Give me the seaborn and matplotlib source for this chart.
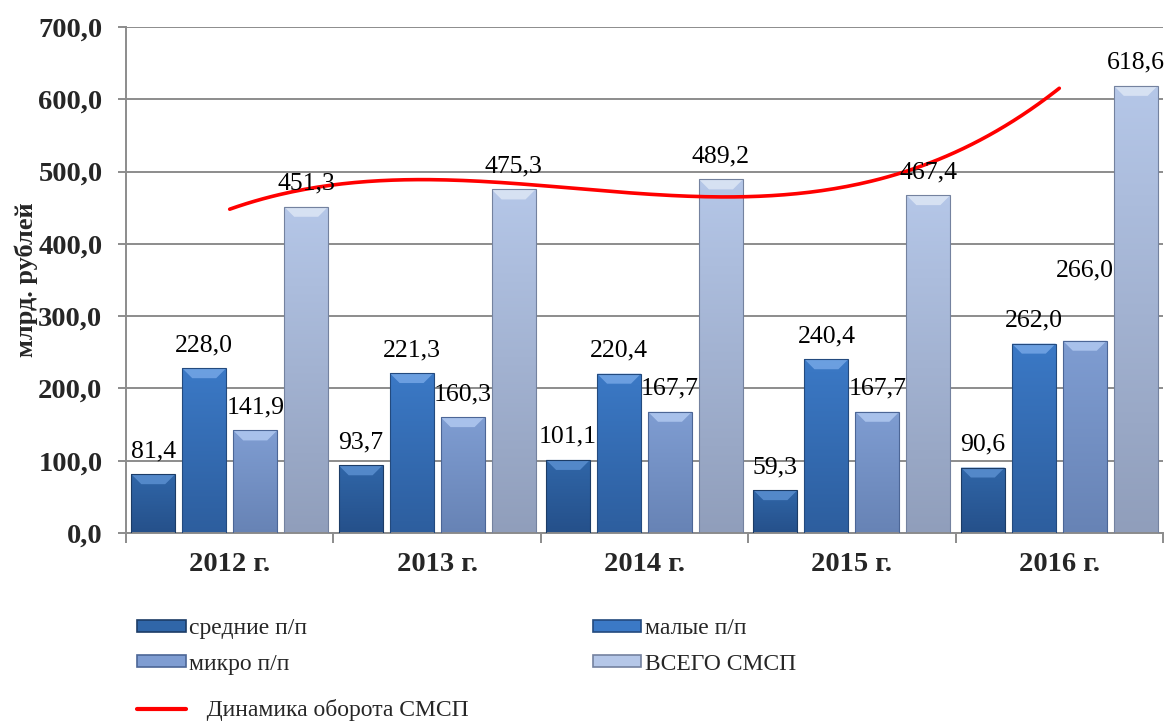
import numpy as np
import pandas as pd
import matplotlib
matplotlib.use("Agg")
import matplotlib.pyplot as plt
import seaborn as sns
from matplotlib.colors import LinearSegmentedColormap
from matplotlib.patches import Polygon, Patch
from matplotlib.lines import Line2D


YEARS = ["2012 г.", "2013 г.", "2014 г.", "2015 г.", "2016 г."]
SERIES = ["средние п/п", "малые п/п", "микро п/п", "ВСЕГО СМСП"]

medium = [81.4, 93.7, 101.1, 59.3, 90.6]
small = [228.0, 221.3, 220.4, 240.4, 262.0]
micro = [141.9, 160.3, 167.7, 167.7, 266.0]
total = [451.3, 475.3, 489.2, 467.4, 618.6]

TREND_LABEL = "   Динамика оборота СМСП"

# top colour, bottom colour, bevel colour, edge colour
STYLES = {
    "средние п/п": ("#3066a8", "#25508a", "#5a8fd0", "#1c3c66"),
    "малые п/п": ("#3b79c6", "#2d5e9e", "#74a6e6", "#234a7e"),
    "микро п/п": ("#7f9dd2", "#6783b5", "#b0c8f0", "#4c6696"),
    "ВСЕГО СМСП": ("#b5c7e8", "#909ebb", "#dde6f5", "#74829f"),
}


def main() -> None:
    sns.set_theme(style="white")
    plt.rcParams["font.family"] = ["Liberation Serif", "DejaVu Serif"]

    df = pd.DataFrame({
        "year": YEARS * 4,
        "series": [s for s in SERIES for _ in YEARS],
        "value": medium + small + micro + total,
    })

    fig = plt.figure(figsize=(11.74, 7.22), dpi=100)
    ax = fig.add_axes([126 / 1174, 1 - 533 / 722, 1037 / 1174, 506 / 722])

    palette = {s: STYLES[s][0] for s in SERIES}
    sns.barplot(df, x="year", y="value", hue="series", palette=palette,
                width=0.983, gap=0.138, ax=ax, legend=False, zorder=3)

    ax.set_xlim(-0.5, 4.5)
    ax.set_ylim(0, 700)

    bbox = ax.get_window_extent()
    ux = 5 / bbox.width      # data units per pixel
    uy = 700 / bbox.height

    # bars with gradient + top bevel
    for container, name in zip(ax.containers, SERIES):
        top_c, bot_c, bevel_c, edge_c = STYLES[name]
        cmap = LinearSegmentedColormap.from_list(name, [bot_c, top_c])
        grad = np.linspace(0, 1, 256).reshape(-1, 1)
        for bar, val in zip(container.patches, container.datavalues):
            x0, w = bar.get_x(), bar.get_width()
            h = bar.get_height()
            bar.set_facecolor("none")
            bar.set_edgecolor(edge_c)
            bar.set_linewidth(0.8)
            im = ax.imshow(grad, extent=[x0, x0 + w, 0, h], origin="lower",
                           aspect="auto", cmap=cmap, zorder=2.5)
            im.set_clip_path(bar)
            bev = 10
            ax.add_patch(Polygon(
                [(x0, h), (x0 + w, h), (x0 + w - bev * ux, h - bev * uy), (x0 + bev * ux, h - bev * uy)],
                closed=True, facecolor=bevel_c, edgecolor="none", alpha=0.85, zorder=2.7))
            # value label
            lift = 70 if (name == "микро п/п" and val == 266.0) else 23
            ax.text(x0 + w / 2, h + lift * uy, f"{val:.1f}".replace(".", ","),
                    ha="center", va="center", fontsize=18.5, color="black",
                    zorder=5, clip_on=False)

    ax.set_xlim(-0.5, 4.5)
    ax.set_ylim(0, 700)

    # cubic trend of totals
    pos = np.arange(len(YEARS))
    coef = np.polyfit(pos, total, 3)
    xs = np.linspace(0, 4, 200)
    sns.lineplot(x=xs, y=np.polyval(coef, xs), color="#ff0000", linewidth=2.6,
                 ax=ax, zorder=4)

    # axes styling
    ax.yaxis.grid(True, color="#8c8c8c", linewidth=1.4, zorder=0)
    ax.set_axisbelow(True)
    for side in ["top", "right"]:
        ax.spines[side].set_visible(False)
    ax.spines["left"].set_color("#8c8c8c")
    ax.spines["bottom"].set_color("#8c8c8c")
    ax.spines["left"].set_linewidth(1.4)
    ax.spines["bottom"].set_linewidth(1.4)

    yt = np.arange(0, 701, 100)
    ax.set_yticks(yt)
    ax.set_yticklabels([f"{v:.1f}".replace(".", ",") for v in yt],
                       fontsize=20.5, fontweight="bold")
    ax.tick_params(axis="y", length=6, width=1.4, color="#8c8c8c", direction="out", left=True, pad=11)

    ax.set_xticks(pos)
    ax.set_xticklabels(YEARS, fontsize=20.5, fontweight="bold")
    ax.set_xticks(np.arange(-0.5, 5, 1), minor=True)
    ax.tick_params(axis="x", which="major", length=0, pad=14)
    ax.tick_params(axis="x", which="minor", length=7, width=1.4, color="#8c8c8c", bottom=True)

    ax.set_xlabel("")
    ax.set_ylabel("млрд. рублей", fontsize=19, fontweight="bold")
    ax.yaxis.set_label_coords(-0.085, 0.5)

    # legend: bar series in two columns, trend line on its own row below
    def h(name):
        return Patch(facecolor=STYLES[name][0], edgecolor=STYLES[name][3], linewidth=1.2)

    handles = [h("средние п/п"), h("микро п/п"), h("малые п/п"), h("ВСЕГО СМСП")]
    labels = ["средние п/п", "микро п/п", "малые п/п", "ВСЕГО СМСП"]
    leg_opts = dict(loc="upper left", frameon=False, fontsize=17,
                    handlelength=2.05, handleheight=0.4, handletextpad=0.15)
    fig.legend(handles, labels, ncol=2, bbox_to_anchor=(116 / 1174, 1 - 597 / 722),
               columnspacing=12.1, labelspacing=0.62, **leg_opts)
    fig.legend([Line2D([], [], color="#ff0000", linewidth=3)], [TREND_LABEL],
               bbox_to_anchor=(116 / 1174, 1 - 678 / 722), **leg_opts)

    fig.savefig("out.png", dpi=100)
    plt.close(fig)


if __name__ == "__main__":
    main()
